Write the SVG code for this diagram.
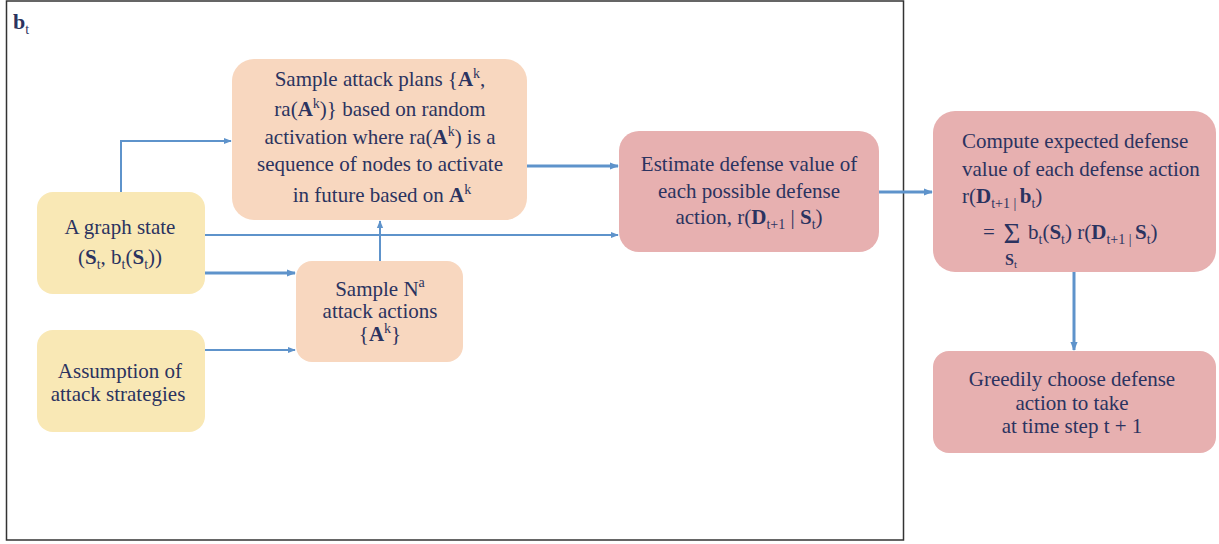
<svg xmlns="http://www.w3.org/2000/svg" width="1219" height="544" viewBox="0 0 1219 544">
<defs>
<style>
text{font-family:"Liberation Serif","DejaVu Serif",serif;font-size:21px;fill:#2b3360}
.c{text-anchor:middle}
.b{font-weight:bold}
.s{font-size:14px;font-weight:normal}
.y{fill:#f9e8b5}
.o{fill:#f8d7bf}
.r{fill:#e7b0b0}
.ln{fill:none;stroke:#5e93cb;stroke-width:2}
.th{stroke-width:3}
</style>
<marker id="ah" viewBox="0 0 10 10" refX="9" refY="5" markerWidth="4" markerHeight="4" orient="auto" markerUnits="strokeWidth"><path d="M0,1 L10,5 L0,9 z" fill="#5e93cb"/></marker>
<marker id="ah2" viewBox="0 0 10 10" refX="9" refY="5" markerWidth="3" markerHeight="3" orient="auto" markerUnits="strokeWidth"><path d="M0,1 L10,5 L0,9 z" fill="#5e93cb"/></marker>
</defs>
<rect width="1219" height="544" fill="#fff"/>
<rect x="6.5" y="1" width="897" height="539" fill="none" stroke="#333" stroke-width="1.5"/>
<text x="13" y="29" class="b" style="font-size:22px">b<tspan class="s" dy="5">t</tspan></text>

<g id="connectors">
<path class="ln" d="M121,192 V141 H231" marker-end="url(#ah)"/>
<path class="ln" d="M205,235 H618" marker-end="url(#ah)"/>
<path class="ln th" d="M205,273 H295" marker-end="url(#ah2)"/>
<path class="ln" d="M205,350 H295" marker-end="url(#ah)"/>
<path class="ln" d="M380,261 V221" marker-end="url(#ah)"/>
<path class="ln th" d="M527,166 H618" marker-end="url(#ah2)"/>
<path class="ln th" d="M879,192 H932" marker-end="url(#ah2)"/>
<path class="ln th" d="M1074,272 V350" marker-end="url(#ah2)"/>
</g>

<g id="plans">
<rect class="o" x="232" y="59" width="295" height="161" rx="22"/>
<text class="c" x="380" y="86">Sample attack plans {<tspan class="b">A</tspan><tspan class="s" dy="-8">k</tspan><tspan dy="8">,</tspan></text>
<text class="c" x="380" y="116">ra(<tspan class="b">A</tspan><tspan class="s" dy="-8">k</tspan><tspan dy="8">)} based on random</tspan></text>
<text class="c" x="380" y="144">activation where ra(<tspan class="b">A</tspan><tspan class="s" dy="-8">k</tspan><tspan dy="8">) is a</tspan></text>
<text class="c" x="380" y="171">sequence of nodes to activate</text>
<text class="c" x="382" y="202">in future based on <tspan class="b">A</tspan><tspan class="s" dy="-8">k</tspan></text>
</g>

<g id="graphstate">
<rect class="y" x="37" y="192" width="168" height="102" rx="16"/>
<text class="c" x="120" y="234">A graph state</text>
<text class="c" x="120" y="264">(<tspan class="b">S</tspan><tspan class="s" dy="5">t</tspan><tspan dy="-5">, b</tspan><tspan class="s" dy="5">t</tspan><tspan dy="-5">(</tspan><tspan class="b">S</tspan><tspan class="s" dy="5">t</tspan><tspan dy="-5">))</tspan></text>
</g>

<g id="assumption">
<rect class="y" x="37" y="330" width="168" height="102" rx="16"/>
<text class="c" x="120" y="378">Assumption of</text>
<text class="c" x="118" y="401">attack strategies</text>
</g>

<g id="sampleN">
<rect class="o" x="296" y="261" width="167" height="101" rx="16"/>
<text class="c" x="380" y="296">Sample N<tspan class="s" dy="-9">a</tspan></text>
<text class="c" x="380" y="318">attack actions</text>
<text class="c" x="380" y="341">{<tspan class="b">A</tspan><tspan class="s" dy="-8">k</tspan><tspan dy="8">}</tspan></text>
</g>

<g id="estimate">
<rect class="r" x="619" y="131" width="260" height="121" rx="20"/>
<text class="c" x="749" y="171">Estimate defense value of</text>
<text class="c" x="749" y="198">each possible defense</text>
<text class="c" x="749" y="224">action, r(<tspan class="b">D</tspan><tspan class="s" dy="5">t+1</tspan><tspan dy="-5"> | </tspan><tspan class="b">S</tspan><tspan class="s" dy="5">t</tspan><tspan dy="-5">)</tspan></text>
</g>

<g id="compute">
<rect class="r" x="933" y="111" width="283" height="161" rx="22"/>
<text x="962" y="148">Compute expected defense</text>
<text x="962" y="176">value of each defense action</text>
<text x="962" y="203">r(<tspan class="b">D</tspan><tspan class="s" dy="5">t+1 | </tspan><tspan class="b" dy="-5">b</tspan><tspan class="s" dy="5">t</tspan><tspan dy="-5">)</tspan></text>
<text x="983" y="239">=</text>
<text x="1012" y="243" class="c" style="font-size:29px">Σ</text>
<text x="1011" y="265" class="c b" style="font-size:16px">S<tspan class="s" style="font-size:11px" dy="3">t</tspan></text>
<text x="1028" y="239">b<tspan class="s" dy="5">t</tspan><tspan dy="-5">(</tspan><tspan class="b">S</tspan><tspan class="s" dy="5">t</tspan><tspan dy="-5">) r(</tspan><tspan class="b">D</tspan><tspan class="s" dy="5">t+1 | </tspan><tspan class="b" dy="-5">S</tspan><tspan class="s" dy="5">t</tspan><tspan dy="-5">)</tspan></text>
</g>

<g id="greedy">
<rect class="r" x="933" y="351" width="283" height="102" rx="16"/>
<text class="c" x="1072" y="386">Greedily choose defense</text>
<text class="c" x="1072" y="410">action to take</text>
<text class="c" x="1072" y="433">at time step t + 1</text>
</g>
</svg>
